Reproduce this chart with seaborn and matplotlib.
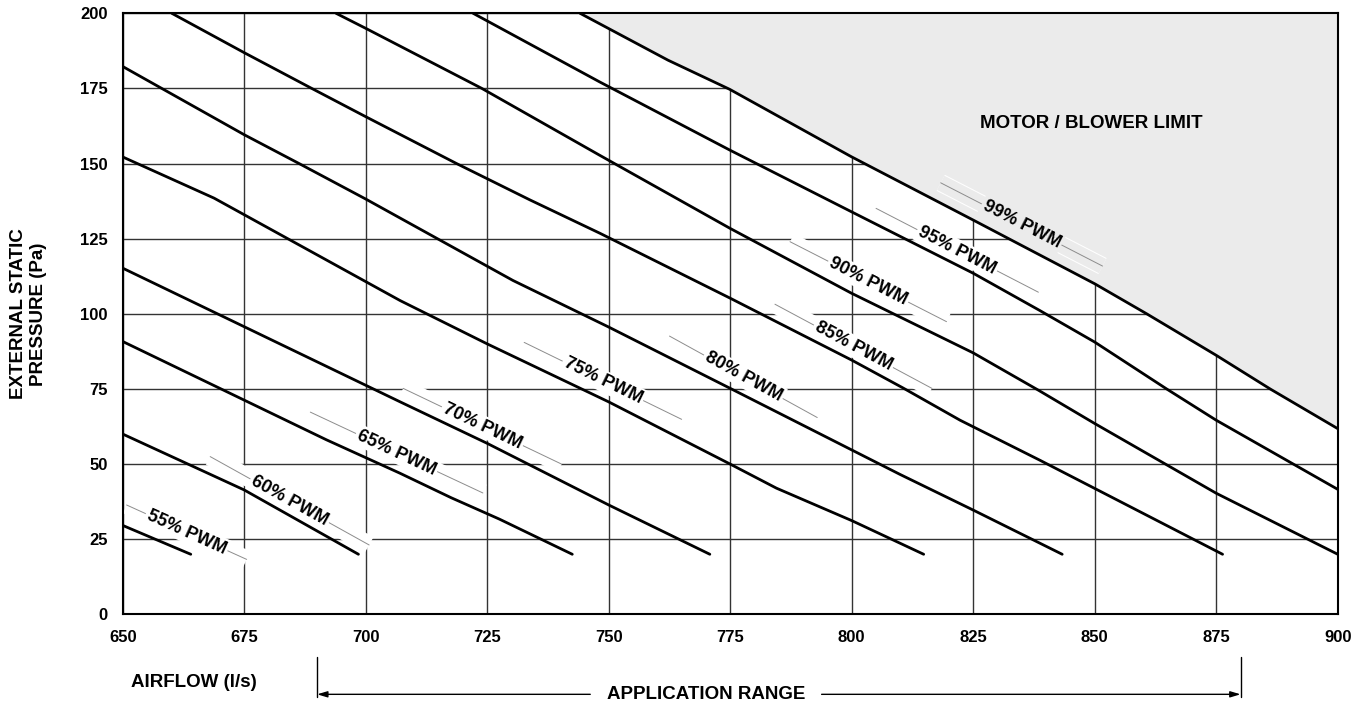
import numpy as np
import pandas as pd
import seaborn as sns
import matplotlib.pyplot as plt
import matplotlib.transforms as mtransforms

#%% data (airflow l/s, external static pressure Pa)
pwm_names = ['55%', '60%', '65%', '70%', '75%', '80%', '85%', '90%', '95%', '99%']

pwm55_x = [650, 664]
pwm55_y = [29.6, 20]
pwm60_x = [650, 675, 698.5]
pwm60_y = [60, 41.4, 20]
pwm65_x = [650, 691.9, 707, 717.6, 727.5, 742.5]
pwm65_y = [90.8, 58.1, 47, 38.8, 31.7, 20]
pwm70_x = [650, 707.1, 725, 750, 770.8]
pwm70_y = [115.2, 70.7, 56.9, 36.4, 20]
pwm75_x = [650, 668.8, 707.1, 725, 750, 775, 784.5, 800, 814.8]
pwm75_y = [152.2, 138.5, 104.4, 90, 70.7, 50, 42, 31.2, 20]
pwm80_x = [650, 675, 686.3, 700, 730.3, 750, 775, 809.9, 825, 843.3]
pwm80_y = [182.3, 159.6, 150, 138.2, 111.1, 95.6, 75.2, 46.6, 34.7, 20]
pwm85_x = [660.1, 675, 688.9, 700, 718.7, 733.8, 748.2, 775, 800, 810.6, 822.3, 838.7, 850, 876.3]
pwm85_y = [200, 186.9, 175, 165.6, 150, 137.9, 126.8, 105.2, 84.6, 75.3, 64.6, 51.3, 41.9, 20]
pwm90_x = [693.9, 700, 723.9, 748.1, 774.9, 799.9, 825, 838.4, 850, 875, 900]
pwm90_y = [200, 195, 175, 152.8, 128.5, 106.9, 87, 74.6, 63.5, 40.3, 20]
pwm95_x = [722.1, 748.1, 774.9, 799.9, 825, 838.7, 850, 864.8, 875, 900]
pwm95_y = [200, 177.2, 154.5, 134, 113.5, 101.1, 90.6, 75, 64.6, 41.6]
pwm99_x = [744.1, 762.2, 774.9, 799.9, 825, 850, 860.7, 875, 886.1, 900]
pwm99_y = [200, 184.4, 174.7, 152.3, 131.2, 110, 100, 86.2, 75, 61.8]

curves_x = [pwm55_x, pwm60_x, pwm65_x, pwm70_x, pwm75_x, pwm80_x, pwm85_x, pwm90_x, pwm95_x, pwm99_x]
curves_y = [pwm55_y, pwm60_y, pwm65_y, pwm70_y, pwm75_y, pwm80_y, pwm85_y, pwm90_y, pwm95_y, pwm99_y]

# label leader lines (start / end) for each curve
lab_x0 = [650.8, 668.0, 688.6, 707.7, 732.6, 762.5, 784.2, 787.3, 805.0, 818.3]
lab_y0 = [36.4, 52.5, 67.3, 75.2, 90.5, 92.6, 103.2, 124.0, 135.1, 143.6]
lab_x1 = [675.5, 700.7, 724.1, 740.3, 765.0, 792.9, 816.5, 819.5, 838.4, 851.6]
lab_y1 = [18.3, 23.1, 40.4, 50.0, 64.9, 65.5, 75.2, 97.4, 107.2, 115.9]

xticks = list(range(650, 901, 25))
yticks = list(range(0, 201, 25))
app_range = [690, 880]

rows = []
for name, xs, ys in zip(pwm_names, curves_x, curves_y):
    for xv, yv in zip(xs, ys):
        rows.append({'pwm': name, 'airflow': xv, 'esp': yv})
df = pd.DataFrame(rows)

#%% plot
sns.set_theme(style='white')
plt.rcParams['font.family'] = ['Liberation Sans', 'DejaVu Sans']
plt.rcParams['font.weight'] = 'bold'
plt.rcParams['text.color'] = 'black'
plt.rcParams['xtick.color'] = 'black'
plt.rcParams['ytick.color'] = 'black'
plt.rcParams['axes.labelcolor'] = 'black'

fig = plt.figure(figsize=(13.62, 7.04), dpi=100)
ax = fig.add_axes([0.0901, 0.1273, 0.8921, 0.8538])
ax.set_xlim(650, 900)
ax.set_ylim(0, 200)

ax.fill_between(pwm99_x, pwm99_y, 200, color='#ebebeb', lw=0, zorder=1)

sns.lineplot(data=df, x='airflow', y='esp', hue='pwm',
             palette={n: 'black' for n in pwm_names},
             estimator=None, sort=False, legend=False, ax=ax, lw=2, zorder=3)

ax.set_xticks(xticks)
ax.set_yticks(yticks)
ax.set_axisbelow(True)
ax.grid(True, color='#333333', lw=1.0)
ax.tick_params(length=0, pad=11, labelsize=12, colors='black')
ax.set_xlabel('')
ax.set_ylabel('')
for s in ax.spines.values():
    s.set_color('black')
    s.set_linewidth(1.5)

# curve labels along a leader line
for i, name in enumerate(pwm_names):
    x0, y0, x1, y1 = lab_x0[i], lab_y0[i], lab_x1[i], lab_y1[i]
    p0 = ax.transData.transform((x0, y0))
    p1 = ax.transData.transform((x1, y1))
    ang = np.degrees(np.arctan2(p1[1] - p0[1], p1[0] - p0[0]))
    bg = 'white'
    ax.plot([x0, x1], [y0, y1], color='white', lw=13, solid_capstyle='butt', zorder=1.5)
    if name == '99%':
        bg = '#ebebeb'
        ax.plot([x0, x1], [y0, y1], color=bg, lw=11.5, solid_capstyle='butt', zorder=1.6)
    ax.plot([x0, x1], [y0, y1], color='#8c8c8c', lw=0.7, zorder=2)
    ax.text((x0 + x1) / 2, (y0 + y1) / 2, name + ' PWM', rotation=ang, rotation_mode='anchor',
            ha='center', va='center', fontsize=13, fontweight='bold', color='black',
            bbox=dict(facecolor=bg, edgecolor='none', pad=1.5), zorder=2.5)

ax.text(849.2, 163.2, 'MOTOR / BLOWER LIMIT', ha='center', va='center', fontsize=13.5,
        color='black', zorder=2.5)

ax.text(-0.0775, 0.5, 'EXTERNAL STATIC\nPRESSURE (Pa)', transform=ax.transAxes, rotation=90,
        ha='center', va='center', fontsize=13.5, multialignment='center', color='black')

# bottom: airflow label and application range arrow
trans = mtransforms.blended_transform_factory(ax.transData, ax.transAxes)
ax.text(664.6, -0.1125, 'AIRFLOW (l/s)', transform=trans, ha='center', va='center',
        fontsize=13.5, color='black')
ax.text(770, -0.133, 'APPLICATION RANGE', transform=trans, ha='center', va='center',
        fontsize=13.5, color='black')
for xv in app_range:
    ax.plot([xv, xv], [-0.0704, -0.137], transform=trans, color='black', lw=1, clip_on=False)
arrow = dict(arrowstyle='-|>,head_length=0.5,head_width=0.15', color='black', lw=1,
             mutation_scale=12, shrinkA=0, shrinkB=0)
ax.annotate('', xy=(app_range[0], -0.133), xytext=(746.2, -0.133), xycoords=trans,
            textcoords=trans, arrowprops=arrow, annotation_clip=False)
ax.annotate('', xy=(app_range[1], -0.133), xytext=(793.8, -0.133), xycoords=trans,
            textcoords=trans, arrowprops=arrow, annotation_clip=False)

fig.savefig('out.png', dpi=100)
